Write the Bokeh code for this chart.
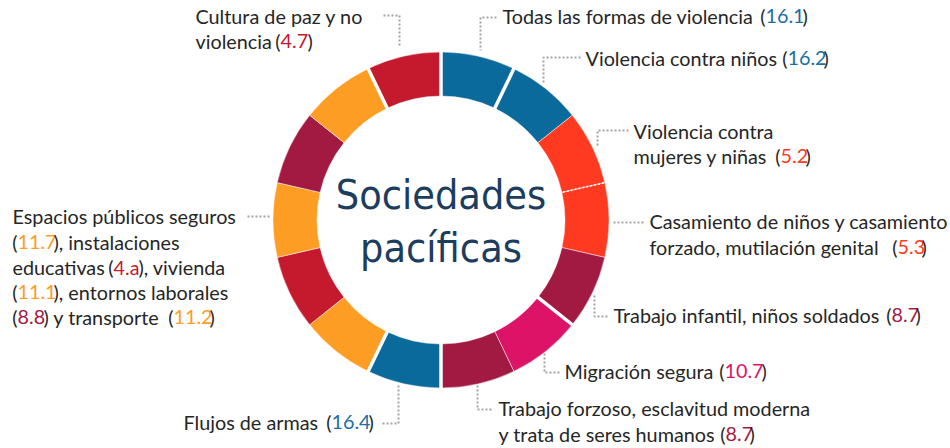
import numpy as np
from bokeh.plotting import figure
from bokeh.models import Range1d, ColumnDataSource
from bokeh.embed import file_html
from bokeh.resources import INLINE
from bokeh.core.properties import value

# ---------------- data ----------------
segment_targets = ["16.1", "16.2", "5.2", "5.3", "8.7", "10.7", "8.7",
                   "16.4", "11.7", "4.a", "11.1", "8.8", "11.2", "4.7"]
segment_weights = [1, 1, 1, 1, 1, 1, 1, 1, 1, 1, 1, 1, 1, 1]
segment_goals = ["16", "16", "5", "5", "8", "10", "8",
                 "16", "11", "4", "11", "8", "11", "4"]
goal_colors = {"16": "#0B6A9C", "5": "#FF3A21", "8": "#A21942",
               "10": "#DD1367", "11": "#FD9D24", "4": "#C5192D"}
text_colors = {"16": "#1C6EA4", "5": "#FF3A21", "8": "#A21942",
               "10": "#DD1367", "11": "#FD9D24", "4": "#C5192D"}
# boundary after segment i: "gap" (white gap), "dot" (dotted), "" (thin)
boundary_style = ["gap", "", "dot", "", "gap", "", "gap",
                  "gap", "", "", "", "", "gap", "gap"]

title_lines = ["Sociedades", "pacíficas"]

# each label line: list of (text, goal or None); "(" is right-aligned to the next piece
label_lines = [
    [("Todas las formas de violencia", None), ("(", None), ("16.1", "16"), (")", None)],
    [("Violencia contra niños", None), ("(", None), ("16.2", "16"), (")", None)],
    [("Violencia contra", None)],
    [("mujeres y niñas", None), ("(", None), ("5.2", "5"), (")", None)],
    [("Casamiento de niños y casamiento", None)],
    [("forzado, mutilación genital", None), ("(", None), ("5.3", "5"), (")", None)],
    [("Trabajo infantil, niños soldados", None), ("(", None), ("8.7", "8"), (")", None)],
    [("Migración segura", None), ("(", None), ("10.7", "10"), (")", None)],
    [("Trabajo forzoso, esclavitud moderna", None)],
    [("y trata de seres humanos", None), ("(", None), ("8.7", "8"), (")", None)],
    [("Flujos de armas", None), ("(", None), ("16.4", "16"), (")", None)],
    [("Espacios públicos seguros", None)],
    [("(", None), ("11.7", "11"), ("), instalaciones", None)],
    [("educativas", None), ("(", None), ("4.a", "4"), ("), vivienda", None)],
    [("(", None), ("11.1", "11"), ("), entornos laborales", None)],
    [("(", None), ("8.8", "8"), (") y transporte", None), ("(", None), ("11.2", "11"), (")", None)],
    [("Cultura de paz y no", None)],
    [("violencia", None), ("(", None), ("4.7", "4"), (")", None)],
]

# ---------------- layout ----------------
# line centre y and piece x starts (None = right-aligned "(")
line_y = [17, 59, 132, 157, 222, 248, 316, 372, 409, 435, 423,
          217, 243, 268, 293, 318, 17, 42]
piece_x = [
    [502, None, 765, 802], [585, None, 787, 823], [633], [633, None, 780, 805],
    [649], [649, None, 897, 921], [613, None, 891, 915], [564, None, 724, 761],
    [498], [498, None, 725, 749], [183, None, 331, 368],
    [12], [None, 17, 53], [12, None, 113, 138], [None, 17, 53],
    [None, 17, 43, None, 173, 209],
    [195], [195, None, 280, 307],
]

connectors = [
    [(496, 17), (480, 17), (480, 50)],
    [(580, 57), (543, 57), (543, 83)],
    [(628, 130), (597, 130), (597, 147)],
    [(643, 222), (612, 222)],
    [(594, 295), (594, 316), (608, 316)],
    [(544, 353), (544, 372), (560, 372)],
    [(477, 385), (477, 409), (493, 409)],
    [(382, 423), (398, 423), (398, 383)],
    [(247, 216), (270, 216)],
    [(383, 15), (399, 15), (399, 47)],
]

W, H = 950, 448
def Y(y):
    return H - y

cx, cy = 440.5, Y(219.5)
r_in, r_out = 124, 168

p = figure(width=W, height=H, x_range=Range1d(0, W), y_range=Range1d(0, H),
           output_backend="svg", toolbar_location=None,
           x_axis_location=None, y_axis_location=None, min_border=0,
           background_fill_color="white", border_fill_color="white")
p.outline_line_color = None
p.grid.visible = False

w = np.array(segment_weights, dtype=float)
cum = np.cumsum(w) / w.sum() * 2 * np.pi
theta0 = np.concatenate([[0.0], cum[:-1]])
theta1 = cum
src = ColumnDataSource(dict(
    start=np.pi / 2 - theta1, end=np.pi / 2 - theta0,
    color=[goal_colors[g] for g in segment_goals],
    target=segment_targets,
))
p.annular_wedge(x=cx, y=cy, inner_radius=r_in, outer_radius=r_out,
                start_angle="start", end_angle="end", direction="anticlock",
                fill_color="color", line_color="white", line_width=0.6,
                line_alpha=0.8, source=src)

for i, style in enumerate(boundary_style):
    phi = np.pi / 2 - theta1[i]
    if style == "gap":
        xs = [cx + (r_in - 2) * np.cos(phi), cx + (r_out + 2) * np.cos(phi)]
        ys = [cy + (r_in - 2) * np.sin(phi), cy + (r_out + 2) * np.sin(phi)]
        p.line(xs, ys, line_color="white", line_width=3.5)
    elif style == "dot":
        xs = [cx + (r_in + 1) * np.cos(phi), cx + (r_out - 1) * np.cos(phi)]
        ys = [cy + (r_in + 1) * np.sin(phi), cy + (r_out - 1) * np.sin(phi)]
        p.line(xs, ys, line_color="white", line_width=1.6, line_dash="2 2")

# connectors
p.multi_line(xs=[[pt[0] for pt in c] for c in connectors],
             ys=[[Y(pt[1]) for pt in c] for c in connectors],
             line_color="#A3A3A3", line_width=2, line_dash="2 2")

# title
p.text(x=[cx, cx], y=[Y(194), Y(247)], text=title_lines,
       text_font=value("DejaVu Sans Condensed, Roboto Condensed, Liberation Sans Narrow, Roboto, sans-serif"),
       text_font_size="41px",
       text_color="#1D3D5E", text_align="center", text_baseline="alphabetic")

# labels
L = dict(x=[], y=[], text=[], color=[])
R = dict(x=[], y=[], text=[], color=[])
for pieces, xs, y0 in zip(label_lines, piece_x, line_y):
    for j, ((txt, g), xx) in enumerate(zip(pieces, xs)):
        col = text_colors[g] if g else "#262626"
        d = L
        if xx is None:
            d = R
            xx = xs[j + 1]
        d["x"].append(xx)
        d["y"].append(Y(y0 - 2))
        d["text"].append(txt)
        d["color"].append(col)
for d, al in ((L, "left"), (R, "right")):
    p.text(x="x", y="y", text="text", text_color="color",
           source=ColumnDataSource(d),
           text_font=value("Lato"), text_font_size="19.8px",
           text_align=al, text_baseline="alphabetic")

open("out.html", "w").write(file_html(p, INLINE))
